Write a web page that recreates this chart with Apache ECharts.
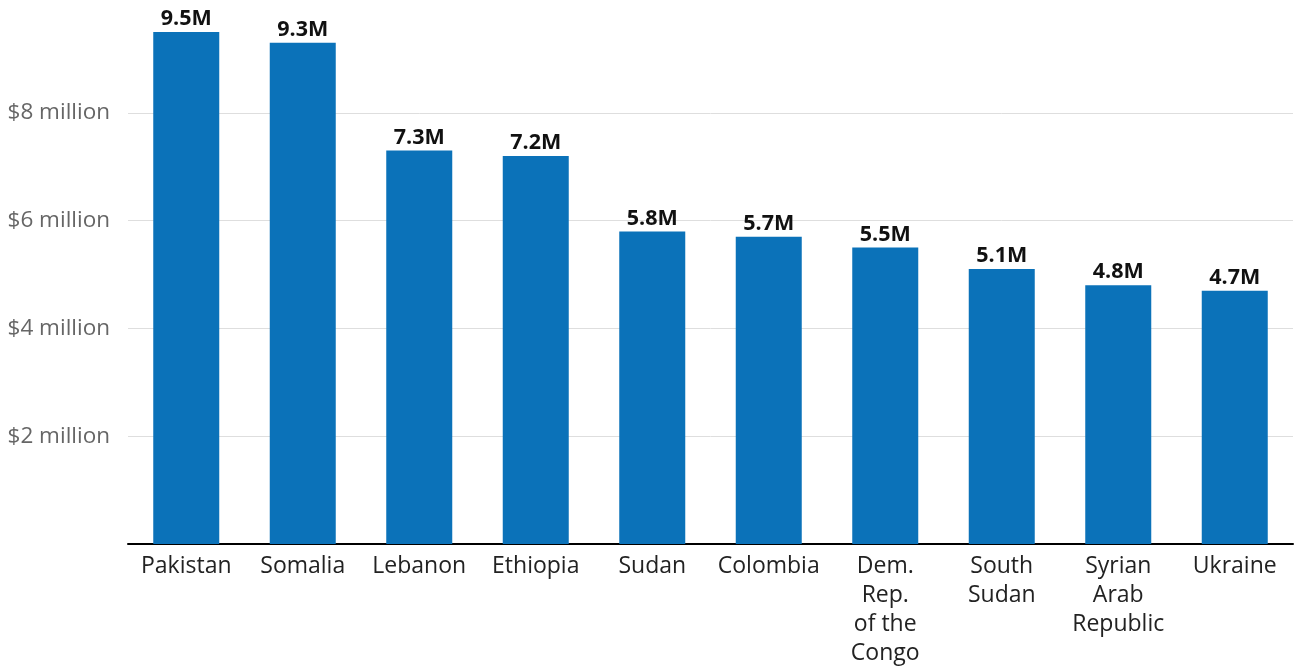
<!DOCTYPE html>
<html>
<head>
<meta charset="utf-8">
<style>
  html, body { margin: 0; padding: 0; background: #fff; overflow: hidden; }
  #chart { width: 1294px; height: 668px; }
</style>
<script src="https://cdn.jsdelivr.net/npm/echarts@6/dist/echarts.min.js"></script>
</head>
<body>
<div id="chart"></div>
<script>
// Countries (line breaks as shown under each bar)
const countries = [
  'Pakistan', 'Somalia', 'Lebanon', 'Ethiopia', 'Sudan', 'Colombia',
  'Dem.\nRep.\nof the\nCongo', 'South\nSudan', 'Syrian\nArab\nRepublic', 'Ukraine'
];
// Funding, millions of US dollars
const funding = [9.5, 9.3, 7.3, 7.2, 5.8, 5.7, 5.5, 5.1, 4.8, 4.7];
// Y axis ticks, millions
const yTicks = [0, 2, 4, 6, 8, 10];

const FONT = '"Open Sans", "Noto Sans", sans-serif';
const chart = echarts.init(document.getElementById('chart'), null, { renderer: 'canvas' });

chart.setOption({
  animation: false,
  grid: { left: 128, right: 1, top: 5, height: 543, containLabel: false },
  xAxis: {
    type: 'category',
    data: countries,
    axisLine: { show: true, lineStyle: { color: '#000', width: 2 } },
    axisTick: { show: false },
    axisLabel: {
      color: '#222', fontFamily: FONT, fontSize: 23, lineHeight: 29,
      margin: 8, interval: 0
    }
  },
  yAxis: {
    type: 'value',
    min: yTicks[0],
    max: yTicks[yTicks.length - 1],
    interval: 2,
    axisLine: { show: false },
    axisTick: { show: false },
    splitLine: {
      show: true,
      lineStyle: {
        // no line at the top of the scale
        color: yTicks.map((t, i) => i === yTicks.length - 1 ? 'rgba(0,0,0,0)' : '#dedede'),
        width: 1
      }
    },
    axisLabel: {
      color: '#666', fontFamily: FONT, fontSize: 22.5, margin: 18,
      showMinLabel: false, showMaxLabel: false,
      formatter: v => '$' + v + ' million'
    }
  },
  series: [{
    type: 'bar',
    data: funding,
    barWidth: 66,
    itemStyle: { color: '#0b72b9' },
    label: {
      show: true, position: 'top', distance: 2,
      color: '#111', fontFamily: FONT, fontSize: 21.5, fontWeight: 'bold',
      formatter: p => p.value + 'M'
    }
  }]
});
</script>
</body>
</html>
